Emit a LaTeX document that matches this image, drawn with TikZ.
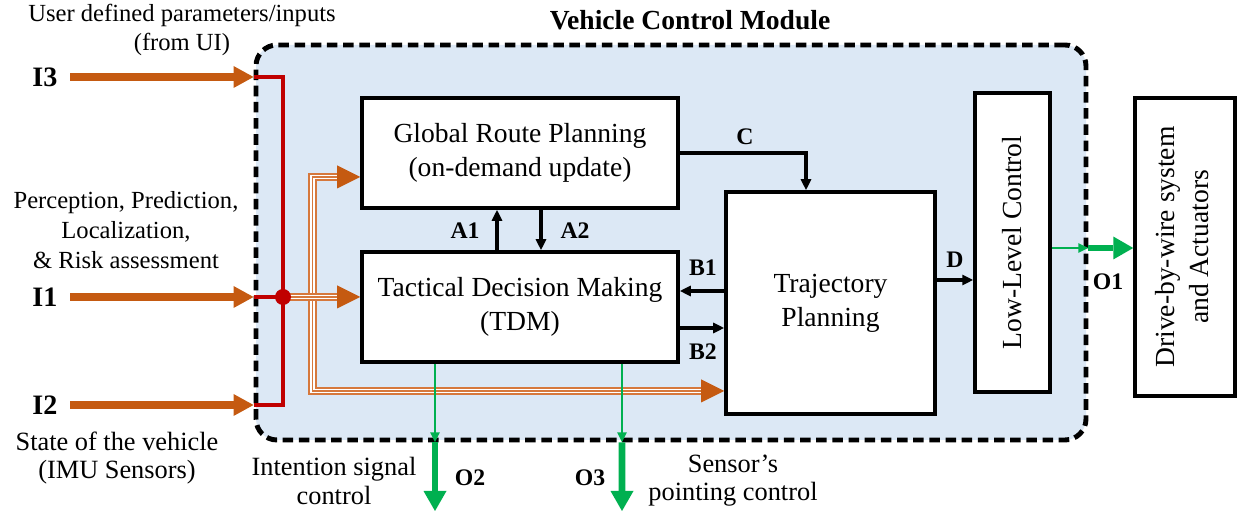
\documentclass[tikz,border=0pt]{standalone}
\usepackage{fontspec}
\setmainfont{Liberation Serif}
\usetikzlibrary{calc}
\usetikzlibrary{arrows.meta}
\usetikzlibrary{positioning}

\definecolor{modfill}{RGB}{220,232,245}
\definecolor{inorange}{RGB}{197,90,17}
\definecolor{busorange}{RGB}{214,120,60}
\definecolor{sigred}{RGB}{192,0,0}
\definecolor{outgreen}{RGB}{0,176,80}

\tikzset{
  block/.style={draw,line width=2pt,fill=white,inner sep=0pt,align=center,
    font=\fontsize{15.7}{19.5}\selectfont},
  module/.style={draw,line width=2.8pt,dash pattern=on 6pt off 3.2pt,
    rounded corners=0.42cm,fill=modfill,inner sep=0pt},
  tag/.style={font=\fontsize{13.5}{16}\selectfont\bfseries},
  intag/.style={font=\fontsize{16}{19}\selectfont\bfseries},
  side/.style={align=center,font=\fontsize{14}{17}\selectfont},
  lowside/.style={align=center,font=\fontsize{15}{16}\selectfont},
  input/.style={line width=4pt,draw=inorange,
    -{Triangle[length=0.4cm,width=0.44cm,line width=0pt]}},
  sig/.style={line width=2pt,draw=sigred},
  bus/.style={line width=4.8pt,draw=busorange,
    postaction={draw=white,line width=2.6pt},
    postaction={draw=busorange,line width=1pt}},
  bustip/.style={draw=inorange,fill=inorange,line width=0.5pt,
    -{Triangle[length=0.46cm,width=0.46cm,line width=0pt]}},
  link/.style={line width=1.8pt,-{Triangle[length=0.22cm,width=0.2cm]}},
  thingreen/.style={line width=1.3pt,draw=outgreen,
    -{Triangle[length=0.2cm,width=0.18cm]}},
  thickgreen/.style={line width=3.8pt,draw=outgreen,
    -{Triangle[length=0.4cm,width=0.46cm,line width=0pt]}}
}

\begin{document}
\begin{tikzpicture}
    \useasboundingbox (0,0) rectangle (24.76,10.28);
    % module frame
    \node[module,minimum width=16.6cm,minimum height=7.9cm] (vcm) at (13.42,5.43) {};
    \node[font=\fontsize{15.7}{19}\selectfont\bfseries] (title) at (13.8,9.88) {Vehicle Control Module};

    % blocks
    \node[block,minimum width=6.32cm,minimum height=2.2cm] (grp) at (10.4,7.22) {Global Route Planning\\(on-demand update)};
    \node[block,minimum width=6.32cm,minimum height=2.2cm] (tdm) at (10.4,4.14) {Tactical Decision Making\\(TDM)};
    \node[block,minimum width=4.18cm,minimum height=4.44cm] (traj) at (16.61,4.22) {Trajectory\\Planning};
    \node[block,minimum width=1.5cm,minimum height=5.98cm] (llc) at (20.25,5.43) {\rotatebox{90}{Low-Level Control}};
    \node[block,minimum width=2cm,minimum height=5.96cm] (dbw) at (23.7,5.34)
        {\rotatebox{90}{\begin{tabular}{@{}c@{}}Drive-by-wire system\\and Actuators\end{tabular}}};

    % inputs
    \coordinate (i3) at (1.4,8.74);
    \coordinate (i1) at (1.4,4.34);
    \coordinate (i2) at (1.4,2.18);
    \coordinate (hub) at (5.66,4.34);
    \draw[input] (i3) -- (i3 -| vcm.west);
    \draw[input] (i1) -- (i1 -| vcm.west);
    \draw[input] (i2) -- (i2 -| vcm.west);
    \node[intag] (i3tag) at (0.9,8.74) {I3};
    \node[intag] (i1tag) at (0.9,4.34) {I1};
    \node[intag] (i2tag) at (0.9,2.18) {I2};
    \node[side] (uitext) at (3.64,9.68) {User defined parameters/inputs\\(from UI)};
    \node[side] (pertext) at (2.52,5.68) {Perception, Prediction,\\Localization,\\\& Risk assessment};
    \node[lowside] (imutext) at (2.34,1.12) {State of the vehicle\\(IMU Sensors)};

    % red merge lines
    \draw[sig] (i3 -| vcm.west) -| (hub) |- (i2 -| vcm.west);
    \draw[sig] (i1 -| vcm.west) -- (hub);

    % orange bus
    \coordinate (gin) at ([yshift=-0.48cm]grp.west);
    \coordinate (tin) at ([yshift=-1.76cm]traj.west);
    \coordinate (busx) at (6.25,0 |- tin);
    \draw[bus] ($(gin)+(-0.46,0)$) -| (busx) -- ($(tin)+(-0.46,0)$);
    \draw[bus] (hub) -- ($(tdm.west |- hub)+(-0.46,0)$);
    \draw[bustip] ($(gin)+(-0.46,0)$) -- (gin);
    \draw[bustip] ($(tdm.west |- hub)+(-0.46,0)$) -- (tdm.west |- hub);
    \draw[bustip] ($(tin)+(-0.46,0)$) -- (tin);
    \fill[sigred] (hub) circle (0.16);

    % inner links
    \draw[link] ([xshift=-0.46cm]tdm.north) -- ([xshift=-0.46cm]grp.south);
    \draw[link] ([xshift=0.42cm]grp.south) -- ([xshift=0.42cm]tdm.north);
    \node[tag] (a1) at (9.3,5.66) {A1};
    \node[tag] (a2) at (11.5,5.66) {A2};
    \draw[link] (grp.east) -| ([xshift=-0.49cm]traj.north);
    \node[tag] (c) at (14.9,7.54) {C};
    \draw[link] ([yshift=0.24cm]traj.west) -- ([yshift=0.24cm]traj.west -| tdm.east);
    \draw[link] ([yshift=-0.5cm]traj.west -| tdm.east) -- ([yshift=-0.5cm]traj.west);
    \node[tag] (b1) at (14.06,4.92) {B1};
    \node[tag] (b2) at (14.06,3.24) {B2};
    \draw[link] ([yshift=0.46cm]traj.east) -- ([yshift=0.46cm]traj.east -| llc.west);
    \node[tag] (d) at (19.1,5.08) {D};

    % outputs
    \coordinate (o1) at ([yshift=-0.11cm]llc.east -| vcm.east);
    \draw[thingreen] ([yshift=-0.11cm]llc.east) -- (o1);
    \draw[thickgreen] (o1) -- (o1 -| dbw.west);
    \node[tag] (o1tag) at (22.16,4.64) {O1};
    \coordinate (o2) at ([xshift=-1.7cm]tdm.south |- vcm.south);
    \coordinate (o2end) at (8.7,0.06);
    \draw[thingreen] ([xshift=-1.7cm]tdm.south) -- (o2);
    \draw[thickgreen] (o2) -- (o2end);
    \node[tag] (o2tag) at (9.4,0.72) {O2};
    \coordinate (o3) at ([xshift=2.04cm]tdm.south |- vcm.south);
    \coordinate (o3end) at (12.44,0.06);
    \draw[thingreen] ([xshift=2.04cm]tdm.south) -- (o3);
    \draw[thickgreen] (o3) -- (o3end);
    \node[tag] (o3tag) at (11.8,0.72) {O3};
    \node[lowside] (o2text) at (6.68,0.66) {Intention signal\\control};
    \node[lowside] (o3text) at (14.66,0.66) {Sensor’s\\pointing control};
\end{tikzpicture}
\end{document}
